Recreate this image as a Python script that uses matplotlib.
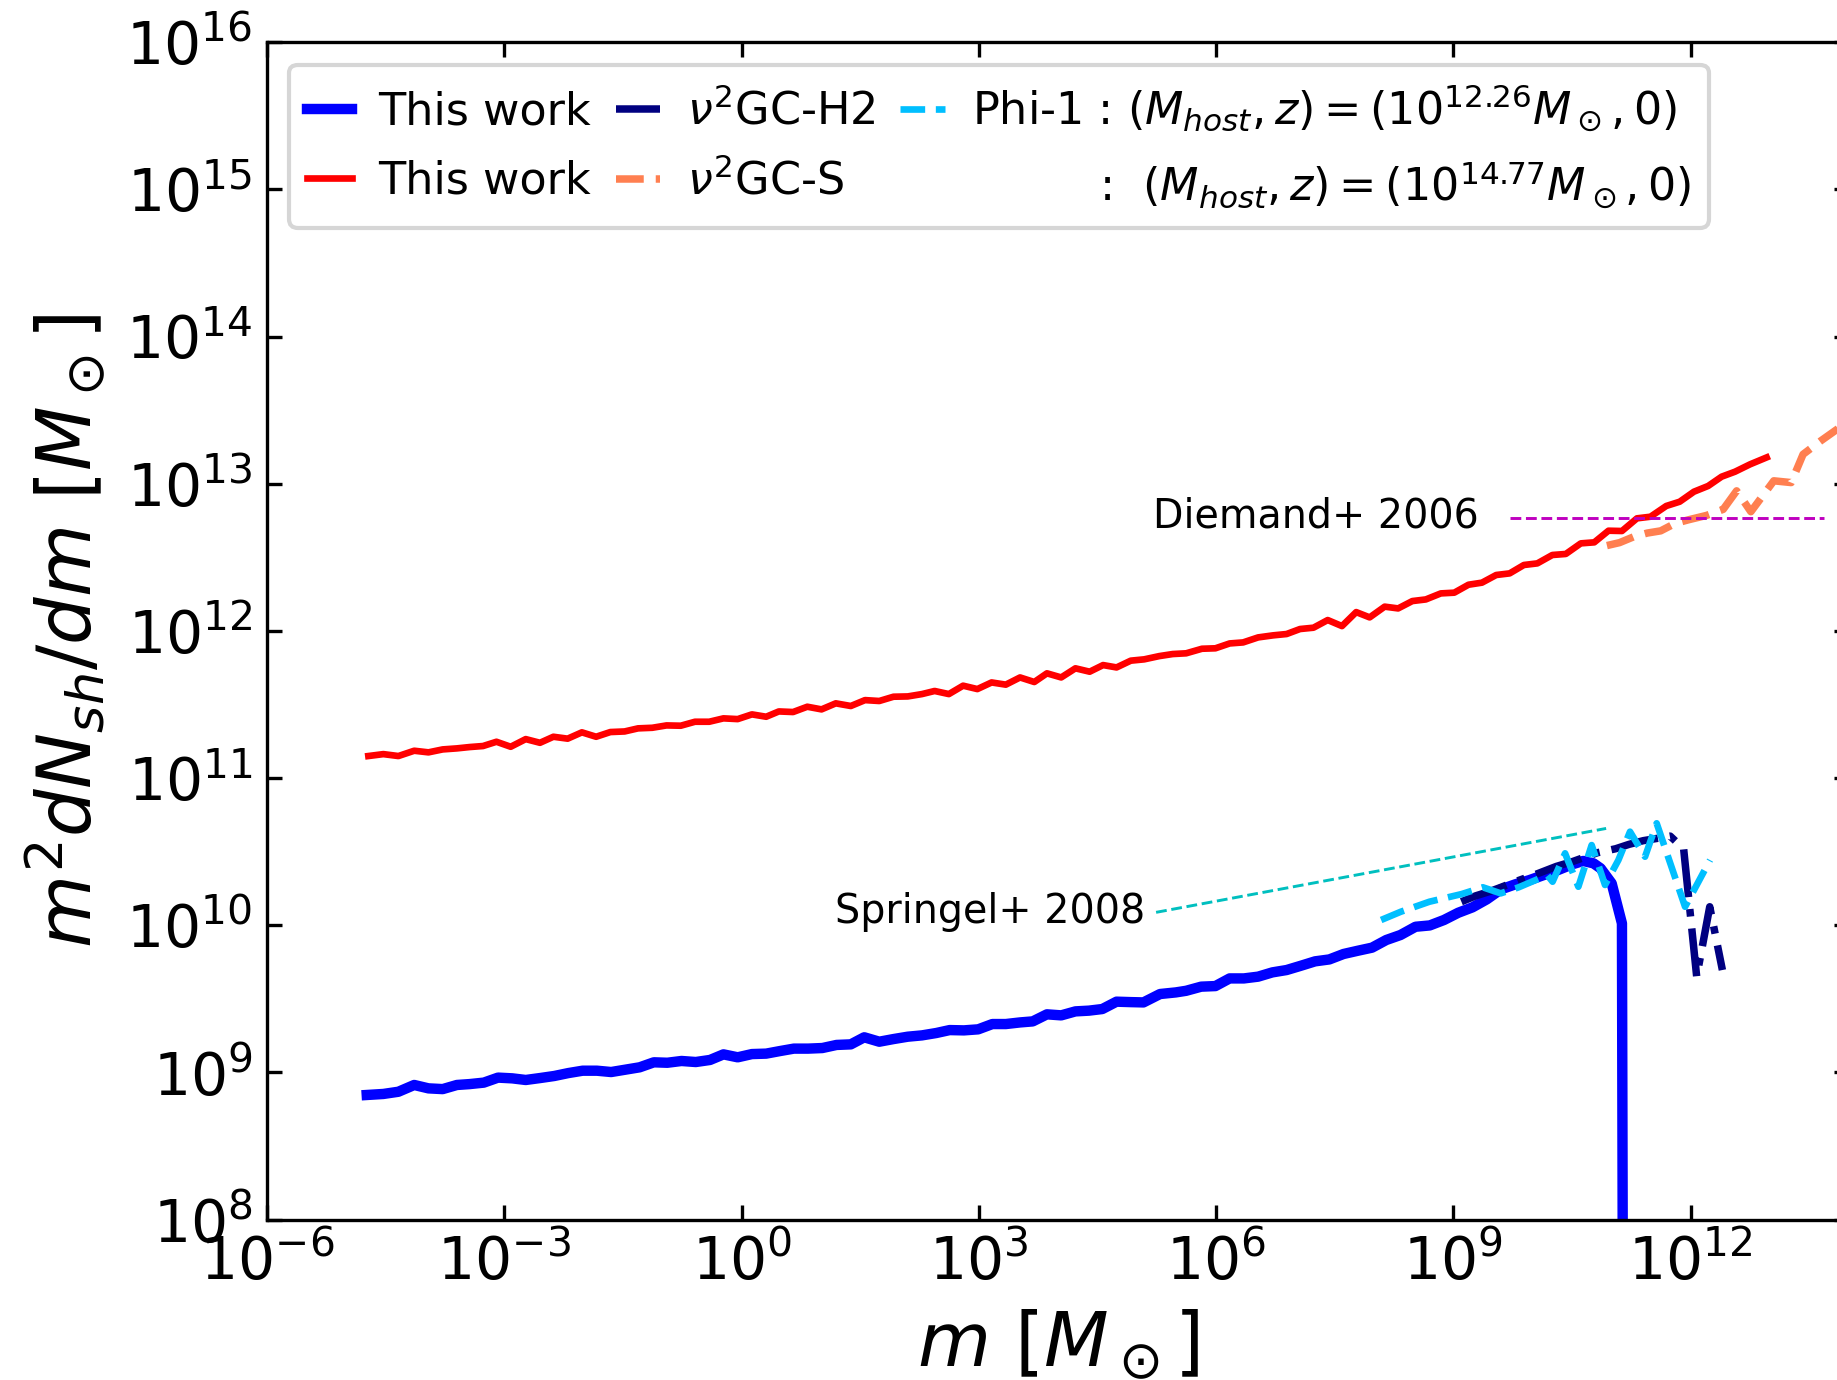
import numpy as np
import matplotlib
matplotlib.use("Agg")
import matplotlib.pyplot as plt
from matplotlib.lines import Line2D
from matplotlib.ticker import NullLocator

# log10(m) and log10(m^2 dN/dm)
red_logm = [-4.72, -4.53, -4.34, -4.14, -3.96, -3.78, -3.60, -3.44, -3.27, -3.10,
            -2.92, -2.73, -2.55, -2.38, -2.20, -2.02, -1.84, -1.66, -1.48, -1.31,
            -1.13, -0.95, -0.77, -0.59, -0.41, -0.23, -0.05, 0.13, 0.31, 0.47,
            0.65, 0.83, 1.01, 1.19, 1.38, 1.56, 1.74, 1.92, 2.10, 2.28,
            2.44, 2.62, 2.80, 2.98, 3.16, 3.34, 3.52, 3.70, 3.86, 4.04,
            4.22, 4.40, 4.57, 4.74, 4.92, 5.09, 5.28, 5.45, 5.62, 5.82,
            5.99, 6.17, 6.34, 6.53, 6.72, 6.89, 7.06, 7.23, 7.41, 7.59,
            7.77, 7.94, 8.13, 8.30, 8.48, 8.65, 8.84, 9.01, 9.19, 9.36,
            9.54, 9.71, 9.89, 10.06, 10.25, 10.42, 10.61, 10.78, 10.96, 11.13,
            11.32, 11.49, 11.69, 11.86, 12.04, 12.22, 12.39, 12.56, 12.75, 12.96]
red_logy = [11.150, 11.163, 11.150, 11.186, 11.175, 11.195, 11.202, 11.211, 11.218, 11.247,
            11.213, 11.265, 11.240, 11.281, 11.268, 11.311, 11.281, 11.313, 11.317, 11.338,
            11.342, 11.358, 11.356, 11.383, 11.383, 11.406, 11.401, 11.433, 11.417, 11.453,
            11.449, 11.485, 11.467, 11.508, 11.490, 11.530, 11.524, 11.553, 11.555, 11.571,
            11.592, 11.571, 11.628, 11.605, 11.650, 11.635, 11.684, 11.653, 11.712, 11.684,
            11.746, 11.723, 11.768, 11.752, 11.798, 11.807, 11.829, 11.843, 11.848, 11.879,
            11.882, 11.915, 11.922, 11.956, 11.970, 11.979, 12.013, 12.022, 12.074, 12.033,
            12.128, 12.092, 12.165, 12.153, 12.203, 12.214, 12.255, 12.260, 12.314, 12.328,
            12.380, 12.391, 12.448, 12.459, 12.516, 12.523, 12.595, 12.602, 12.681, 12.679,
            12.765, 12.776, 12.849, 12.878, 12.946, 12.985, 13.048, 13.082, 13.132, 13.179]

blue_logm = [-4.74, -4.53, -4.34, -4.14, -3.96, -3.78, -3.60, -3.44, -3.26, -3.08,
             -2.90, -2.73, -2.55, -2.37, -2.19, -2.01, -1.83, -1.65, -1.47, -1.29,
             -1.11, -0.94, -0.76, -0.58, -0.40, -0.23, -0.05, 0.13, 0.31, 0.49,
             0.66, 0.84, 1.02, 1.20, 1.38, 1.55, 1.74, 1.92, 2.10, 2.28,
             2.46, 2.63, 2.81, 2.99, 3.17, 3.34, 3.52, 3.68, 3.86, 4.04,
             4.22, 4.39, 4.56, 4.74, 4.92, 5.08, 5.29, 5.49, 5.62, 5.81,
             5.99, 6.17, 6.35, 6.53, 6.71, 6.89, 7.07, 7.25, 7.43, 7.61,
             7.79, 7.97, 8.15, 8.33, 8.52, 8.70, 8.88, 9.06, 9.24, 9.42,
             9.60, 9.78, 9.96, 10.14, 10.32, 10.50, 10.64, 10.77, 10.86, 11.00,
             11.13, 11.31]
blue_logy = [8.847, 8.854, 8.869, 8.915, 8.892, 8.887, 8.915, 8.921, 8.931, 8.965,
             8.960, 8.949, 8.962, 8.976, 8.996, 9.012, 9.012, 9.003, 9.019, 9.035,
             9.069, 9.066, 9.078, 9.071, 9.085, 9.123, 9.103, 9.125, 9.128, 9.146,
             9.162, 9.162, 9.166, 9.187, 9.191, 9.239, 9.209, 9.227, 9.243, 9.252,
             9.268, 9.288, 9.286, 9.293, 9.329, 9.329, 9.340, 9.347, 9.395, 9.388,
             9.415, 9.420, 9.431, 9.481, 9.478, 9.476, 9.533, 9.544, 9.555, 9.583,
             9.587, 9.639, 9.639, 9.651, 9.680, 9.696, 9.725, 9.755, 9.768, 9.805,
             9.827, 9.848, 9.900, 9.934, 9.990, 9.999, 10.036, 10.085, 10.122, 10.176,
             10.244, 10.278, 10.307, 10.341, 10.375, 10.414, 10.437, 10.421, 10.387, 10.285,
             10.013, -30.0]

h2_logm = [9.10, 9.28, 9.46, 9.60, 9.80, 10.05, 10.30, 10.50, 10.82, 11.05,
           11.22, 11.40, 11.57, 11.74, 11.91, 12.075, 12.24, 12.40]
h2_logy = [10.160, 10.200, 10.230, 10.258, 10.300, 10.348, 10.400, 10.432, 10.493, 10.520,
           10.550, 10.575, 10.590, 10.606, 10.520, 9.651, 10.126, 9.696]

phi_logm = [8.085, 8.334, 8.695, 9.102, 9.372, 9.598, 9.824, 10.186, 10.253, 10.411,
            10.579, 10.747, 10.916, 11.085, 11.232, 11.422, 11.569, 11.928, 12.244]
phi_logy = [10.036, 10.092, 10.160, 10.212, 10.258, 10.217, 10.258, 10.341, 10.296, 10.489,
            10.262, 10.545, 10.274, 10.443, 10.636, 10.466, 10.693, 10.126, 10.443]

s_logm = [10.94, 11.10, 11.28, 11.45, 11.62, 11.80, 11.97, 12.20, 12.41, 12.58,
          12.76, 13.05, 13.27, 13.42, 13.64, 13.85, 14.02]
s_logy = [12.580, 12.600, 12.640, 12.665, 12.680, 12.730, 12.755, 12.785, 12.826, 12.952,
          12.810, 13.020, 13.008, 13.200, 13.290, 13.370, 13.440]

# reference lines (Springel+ 2008, Diemand+ 2006)
springel_logm = [5.24, 10.93]
springel_logy = [10.088, 10.658]
diemand_logm = [9.71, 13.68]
diemand_logy = [12.769, 12.769]

lbl_host1 = r"Phi-1 : $(M_{host}, z) = (10^{12.26}M_\odot, 0)$"
lbl_host2 = r"         :  $(M_{host}, z) = (10^{14.77}M_\odot, 0)$"


def p(v):
    return 10.0 ** np.asarray(v)


fig = plt.figure(figsize=(1837 / 300, 1380 / 300), dpi=300)
ax = fig.add_axes([0.1454, 0.1162, 0.8611, 0.8532])

l_blue, = ax.plot(p(blue_logm), p(blue_logy), color='b', lw=2.5, label='This work')
l_red, = ax.plot(p(red_logm), p(red_logy), color='r', lw=1.6, label='This work')
l_h2, = ax.plot(p(h2_logm), p(h2_logy), color='navy', lw=1.8, ls='-.', label=r'$\nu^2$GC-H2')
l_s, = ax.plot(p(s_logm), p(s_logy), color='coral', lw=1.8, ls='--', label=r'$\nu^2$GC-S')
l_phi, = ax.plot(p(phi_logm), p(phi_logy), color='deepskyblue', lw=1.6, ls='--', label=lbl_host1)
l_blank = Line2D([], [], color='none', label=lbl_host2)

ax.plot(p(springel_logm), p(springel_logy), color='c', lw=0.7, ls='--')
ax.plot(p(diemand_logm), p(diemand_logy), color='m', lw=0.7, ls='--')
ax.text(10 ** 5.10, 10 ** 10.09, 'Springel+ 2008', ha='right', va='center', fontsize=9.5)
ax.text(10 ** 9.32, 10 ** 12.78, 'Diemand+ 2006', ha='right', va='center', fontsize=9.5)

ax.set_xscale('log')
ax.set_yscale('log')
ax.set_xlim(1e-6, 1e14)
ax.set_ylim(1e8, 1e16)
ax.set_xticks(p([-6, -3, 0, 3, 6, 9, 12]))
ax.set_yticks(p([8, 9, 10, 11, 12, 13, 14, 15, 16]))
ax.xaxis.set_minor_locator(NullLocator())
ax.yaxis.set_minor_locator(NullLocator())
ax.tick_params(direction='in', top=True, right=True, labelsize=14)

ax.set_xlabel(r'$m\ [M_\odot]$', fontsize=18, labelpad=4)
ax.set_ylabel(r'$m^2dN_{sh}/dm\ [M_\odot]$', fontsize=18, labelpad=4)

ax.legend(handles=[l_blue, l_red, l_h2, l_s, l_phi, l_blank], ncol=3, loc='upper left',
          fontsize=10.7, handlelength=1.0, handletextpad=0.6, columnspacing=0.55,
          labelspacing=0.58)

fig.savefig('out.png', dpi=300)
